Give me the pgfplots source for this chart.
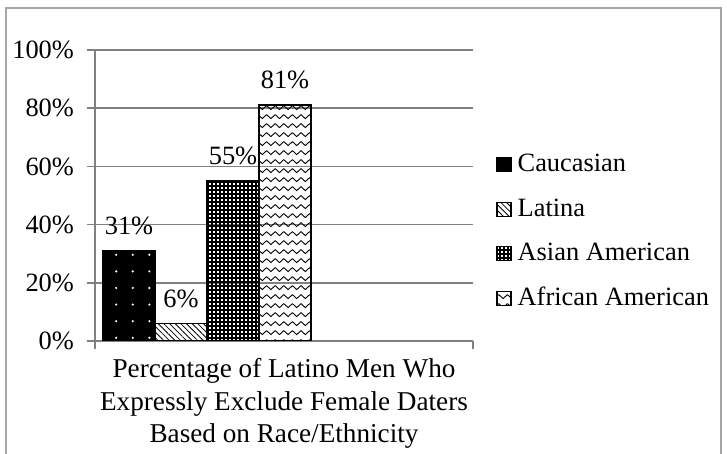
\documentclass[border=0pt]{standalone}
\usepackage{pgfplots}
\pgfplotsset{compat=1.18}
\usepackage{fontspec}
\setmainfont{Liberation Serif}
\usetikzlibrary{patterns,patterns.meta}

% zigzag fill for the last bar
\pgfdeclarepatternformonly{zigzag}{\pgfqpoint{-0.5pt}{-0.5pt}}{\pgfqpoint{4.8pt}{5pt}}{\pgfqpoint{4.3pt}{4.5pt}}{
  \pgfsetlinewidth{0.45pt}
  \pgfpathmoveto{\pgfqpoint{0pt}{3.2pt}}
  \pgfpathlineto{\pgfqpoint{2.15pt}{1.2pt}}
  \pgfpathlineto{\pgfqpoint{4.3pt}{3.2pt}}
  \pgfusepath{stroke}}

\begin{document}
\begin{tikzpicture}[font=\fontsize{13.2}{16.25}\selectfont]
\path[use as bounding box] (-47.5pt,-56.5pt) rectangle (316pt,170.5pt);
\draw[gray!70, line width=0.8pt] (-44.5pt,-60pt) -- (-44.5pt,166.5pt) -- (313pt,166.5pt) -- (313pt,-60pt);
\begin{axis}[
    at={(0pt,0pt)}, anchor=south west,
    scale only axis, width=189pt, height=145.5pt,
    xmin=0, xmax=378, ymin=0, ymax=100,
    ybar=0pt, bar width=52,
    axis x line*=bottom, axis y line*=left,
    axis line style={gray, line width=0.8pt, -},
    xtick={0,378}, xticklabels={},
    ytick={0,20,...,100},
    yticklabel={\pgfmathprintnumber{\tick}\%},
    yticklabel style={xshift=-3pt},
    /pgf/number format/assume math mode=true,
    tick align=outside, major tick length=4pt,
    tick style={gray, line width=0.8pt},
    ymajorgrids, grid style={gray, line width=0.8pt},
    nodes near coords={\pgfmathprintnumber{\pgfplotspointmeta}\%},
    nodes near coords style={anchor=base, yshift=8.25pt, inner sep=0pt},
    xlabel={Percentage of Latino Men Who\\Expressly Exclude Female Daters\\Based on Race/Ethnicity},
    xlabel style={at={(axis description cs:0.5,0)}, anchor=north, yshift=-8.7pt, align=center,
        inner sep=0pt, font=\fontsize{13.6}{16.25}\selectfont},
    legend style={at={(axis description cs:1.061,0.376)}, anchor=west, draw=none, fill=none,
        inner sep=0pt, row sep=8.25pt,
        nodes={inner sep=0pt, anchor=west, text height=10.5pt, text depth=3.5pt},
        /tikz/every odd column/.append style={column sep=3pt}},
    legend image code/.code={\draw[#1, draw=black, line width=0.6pt] (0pt,-3.5pt) rectangle (7pt,3.5pt);},
]
\addplot[draw=black, line width=0.8pt, fill=black,
    postaction={pattern={Dots[distance=8.3pt, radius=0.6pt]}, pattern color=white}]
    coordinates {(112,31)};
\addplot[draw=black, line width=0.8pt, fill=white,
    pattern={Lines[angle=-45, distance=2pt, line width=0.4pt]}, pattern color=black]
    coordinates {(112,6)};
\addplot[draw=black, line width=0.8pt, fill=white,
    pattern={Hatch[angle=0, distance=2pt, line width=0.75pt]}, pattern color=black]
    coordinates {(112,55)};
\addplot[draw=black, line width=0.8pt, fill=white,
    pattern=zigzag, pattern color=black]
    coordinates {(112,81)};
\legend{Caucasian, Latina, Asian American, African American}
\end{axis}
\end{tikzpicture}
\end{document}
